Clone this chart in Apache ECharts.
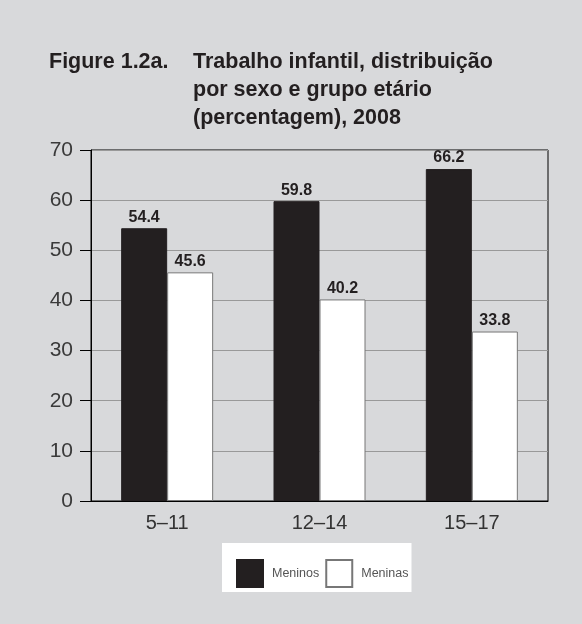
<!DOCTYPE html>
<html>
<head>
<meta charset="utf-8">
<script src="https://cdn.jsdelivr.net/npm/echarts@6/dist/echarts.min.js"></script>
<style>
  html, body { margin: 0; padding: 0; background: #d8d9db; }
  #chart { width: 582px; height: 624px; }
</style>
</head>
<body>
<div id="chart"></div>
<script>
// faixas etárias
var categories = ['5–11', '12–14', '15–17']
var meninos = [54.4, 59.8, 66.2]
var meninas = [45.6, 40.2, 33.8]
var yTicks = [0, 10, 20, 30, 40, 50, 60, 70]

var myChart = echarts.init(document.getElementById('chart'))
var font = 'Liberation Sans'
var labelStyle = {
  show: true,
  position: 'top',
  distance: 3,
  fontFamily: font,
  fontWeight: 'bold',
  fontSize: 16,
  color: '#231f20',
  formatter: function (p) { return p.value.toFixed(1) }
}
var titleText = { fontFamily: font, fontWeight: 'bold', fontSize: 21.5, lineHeight: 28, color: '#231f20' }
var option = {
  backgroundColor: '#d8d9db',
  textStyle: { fontFamily: font },
  title: [
    { text: 'Figure 1.2a.', left: 44, top: 43, textStyle: titleText },
    {
      text: 'Trabalho infantil, distribuição\npor sexo e grupo etário\n(percentagem), 2008',
      left: 188,
      top: 43,
      textStyle: titleText
    }
  ],
  grid: {
    left: 91,
    right: 34,
    top: 150,
    bottom: 123,
    show: true,
    borderColor: '#000',
    borderWidth: 1,
    backgroundColor: 'transparent'
  },
  legend: {
    data: ['Meninos', 'Meninas'],
    left: 222,
    top: 543,
    padding: [16, 3, 4, 14],
    backgroundColor: '#fff',
    itemWidth: 26,
    itemHeight: 27,
    itemGap: 6,
    icon: 'rect',
    textStyle: { fontFamily: font, fontSize: 12.5, color: '#555', padding: [0, 0, 0, 4] }
  },
  xAxis: {
    type: 'category',
    data: categories,
    axisLine: { lineStyle: { color: '#000', width: 1 } },
    axisTick: { show: false },
    axisLabel: { fontFamily: font, fontSize: 20, color: '#333', margin: 12 }
  },
  yAxis: {
    type: 'value',
    min: yTicks[0],
    max: yTicks[yTicks.length - 1],
    interval: 10,
    axisLine: { show: true, lineStyle: { color: '#000', width: 1 } },
    axisTick: { show: true, inside: false, length: 11, lineStyle: { color: '#000' } },
    axisLabel: { fontFamily: font, fontSize: 21, color: '#3a3a3a', margin: 18 },
    splitLine: { lineStyle: { color: '#999', width: 1 } }
  },
  series: [
    {
      name: 'Meninos',
      type: 'bar',
      data: meninos,
      barWidth: 46,
      barGap: '0%',
      itemStyle: { color: '#231f20', borderColor: '#231f20', borderWidth: 1 },
      label: labelStyle
    },
    {
      name: 'Meninas',
      type: 'bar',
      data: meninas,
      barWidth: 46,
      barGap: '0%',
      itemStyle: { color: '#ffffff', borderColor: '#777', borderWidth: 1 },
      label: labelStyle
    }
  ]
}
myChart.setOption(option)
</script>
</body>
</html>
